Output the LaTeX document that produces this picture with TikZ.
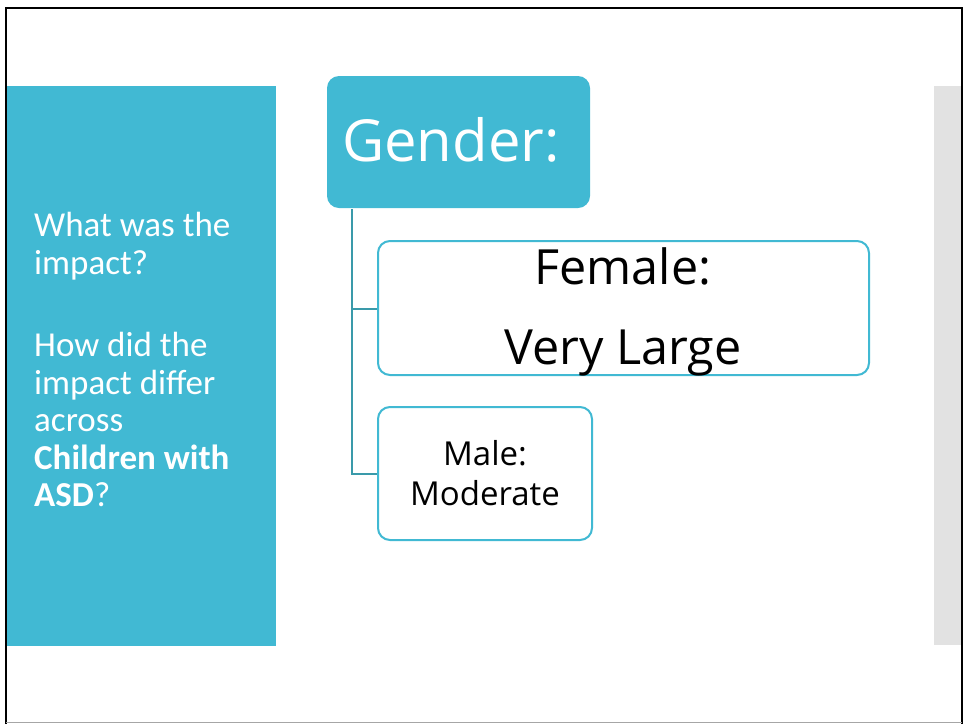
\documentclass[tikz,border=0pt]{standalone}
\usepackage{fontspec}
\setmainfont{Open Sans}
\newfontfamily\panelfont{Carlito}
\definecolor{teal1}{HTML}{41B9D3}
\definecolor{tealdark}{HTML}{3A9AAA}
\definecolor{grayp}{HTML}{E2E2E2}
\begin{document}
\begin{tikzpicture}[x=1pt,y=-1pt,
  headbox/.style={fill=teal1,rounded corners=12pt,inner sep=0pt},
  childbox/.style={draw=teal1,line width=2pt,fill=white,rounded corners=12pt,inner sep=0pt},
  conn/.style={draw=tealdark,line width=2pt}]
\useasboundingbox (0,0) rectangle (964,724);
\fill[white] (0,0) rectangle (964,724);
% frame
\draw[black,line width=2pt] (6,724) -- (6,8) -- (962,8) -- (962,724);
\draw[gray!70,line width=1pt] (6,722.5) -- (962,722.5);
% panels
\fill[teal1] (7,86) rectangle (276,646);
\fill[grayp] (934,86) rectangle (961,645);
\node[anchor=north west,inner sep=0pt,text=white,font=\panelfont\fontsize{35}{37.5}\selectfont,align=left] (q) at (34,212)
  {What was the\\impact?\\[45pt]How did the\\impact differ\\across\\\textbf{Children with}\\\textbf{ASD}?};
% boxes
\path[headbox] (327,76) rectangle (590,208);
\node[text=white,font=\fontsize{58}{58}\selectfont] (g) at (451,140) {Gender:};
\path[childbox] (378,241) rectangle (869,375);
\node[font=\fontsize{48.5}{80}\selectfont,align=center] (f) at (623,312) {Female:\\Very Large};
\path[childbox] (378,407) rectangle (592,540);
\node[font=\fontsize{33}{40}\selectfont,align=center] (m) at (485,473) {Male:\\Moderate};
\coordinate (top) at (352,209);
\coordinate (fl) at (377,309);
\coordinate (ml) at (377,474);
\draw[conn] (top) -- (352,474) -- (ml);
\draw[conn] (352,309) -- (fl);
\end{tikzpicture}
\end{document}
